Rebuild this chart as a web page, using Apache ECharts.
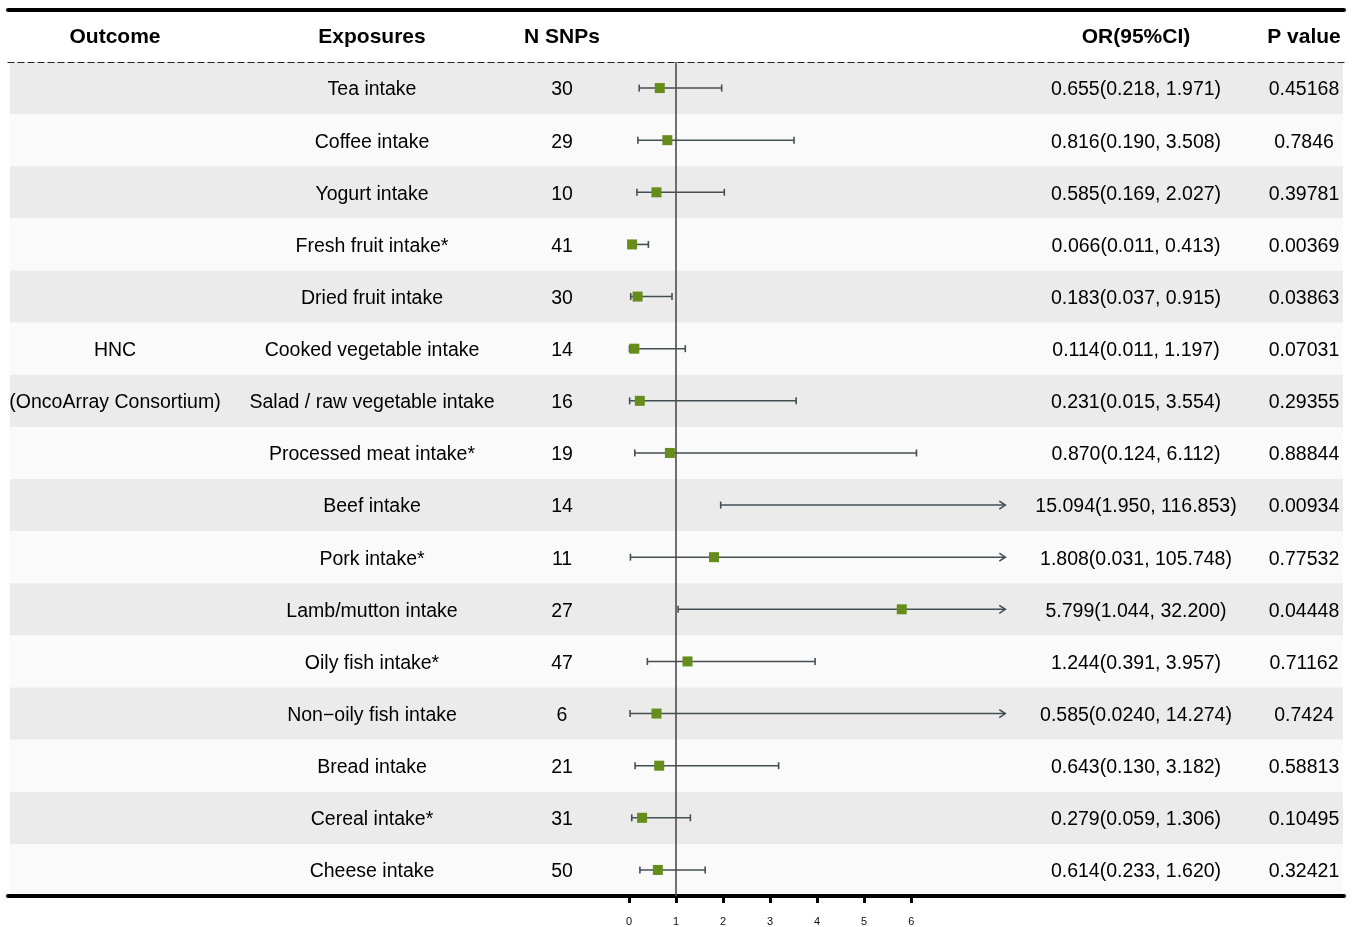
<!DOCTYPE html>
<html>
<head>
<meta charset="utf-8">
<title>HNC forest plot</title>
<script src="https://cdn.jsdelivr.net/npm/echarts@6/dist/echarts.min.js"></script>
<style>
  html, body { margin: 0; padding: 0; background: #fff; }
  #forest { width: 1354px; height: 927px; }
</style>
</head>
<body>
<div id="forest"></div>
<script>
// ---- data ----
const exposures = ['Tea intake', 'Coffee intake', 'Yogurt intake', 'Fresh fruit intake*', 'Dried fruit intake',
  'Cooked vegetable intake', 'Salad / raw vegetable intake', 'Processed meat intake*', 'Beef intake', 'Pork intake*',
  'Lamb/mutton intake', 'Oily fish intake*', 'Non\u2212oily fish intake', 'Bread intake', 'Cereal intake*', 'Cheese intake'];
const outcomeLabels = ['', '', '', '', '', 'HNC', '(OncoArray Consortium)', '', '', '', '', '', '', '', '', ''];
const nSnps = [30, 29, 10, 41, 30, 14, 16, 19, 14, 11, 27, 47, 6, 21, 31, 50];
const orText = ['0.655', '0.816', '0.585', '0.066', '0.183', '0.114', '0.231', '0.870', '15.094', '1.808',
  '5.799', '1.244', '0.585', '0.643', '0.279', '0.614'];
const loText = ['0.218', '0.190', '0.169', '0.011', '0.037', '0.011', '0.015', '0.124', '1.950', '0.031',
  '1.044', '0.391', '0.0240', '0.130', '0.059', '0.233'];
const hiText = ['1.971', '3.508', '2.027', '0.413', '0.915', '1.197', '3.554', '6.112', '116.853', '105.748',
  '32.200', '3.957', '14.274', '3.182', '1.306', '1.620'];
const pValues = ['0.45168', '0.7846', '0.39781', '0.00369', '0.03863', '0.07031', '0.29355', '0.88844', '0.00934',
  '0.77532', '0.04448', '0.71162', '0.7424', '0.58813', '0.10495', '0.32421'];
const tickValues = [0, 1, 2, 3, 4, 5, 6];
const headers = ['Outcome', 'Exposures', 'N SNPs', 'OR(95%CI)', 'P value'];

// forest panel is cut at this OR value (arrows beyond)
const clipMax = 8;
// axis spans the whole table width so that 0 lands under the forest panel
const xMin = -13.2, xMax = 15.2;

// column centres (layout)
const colX = [115, 372, 562, 1136, 1304];
const font = '"Liberation Sans", Arial, sans-serif';

const rows = exposures.map((_, i) => i);
const orVal = orText.map(Number);
const loVal = loText.map(Number);
const hiVal = hiText.map(Number);

const chart = echarts.init(document.getElementById('forest'));

const option = {
  animation: false,
  backgroundColor: '#ffffff',
  grid: { left: 8, right: 10, top: 62, bottom: 31 },
  xAxis: [
    {
      type: 'value', min: xMin, max: xMax, position: 'bottom',
      axisLine: { show: true, onZero: false, lineStyle: { color: '#000', width: 4, cap: 'round' } },
      axisTick: { show: true, customValues: tickValues, length: 7, lineStyle: { color: '#000', width: 3 } },
      axisLabel: { customValues: tickValues, fontSize: 11, color: '#111', margin: 20, fontFamily: font },
      splitLine: { show: false }
    },
    {
      type: 'value', min: xMin, max: xMax, position: 'top',
      axisLine: { show: true, onZero: false, lineStyle: { color: '#222', width: 1.2, type: [6, 4] } },
      axisTick: { show: false }, axisLabel: { show: false }, splitLine: { show: false }
    },
    {
      type: 'value', min: xMin, max: xMax, position: 'top', offset: 52,
      axisLine: { show: true, onZero: false, lineStyle: { color: '#000', width: 4, cap: 'round' } },
      axisTick: { show: false }, axisLabel: { show: false }, splitLine: { show: false }
    }
  ],
  yAxis: {
    type: 'category', data: exposures, inverse: true, show: false
  },
  graphic: headers.map((h, k) => ({
    type: 'text', x: colX[k], y: 37,
    style: { text: h, font: 'bold 21px ' + font, fill: '#000', align: 'center', verticalAlign: 'middle' }
  })),
  series: [
    {
      // row stripes
      type: 'custom', z: 0, silent: true,
      data: rows.map(i => [0, i]),
      renderItem: function (params, api) {
        const i = api.value(1);
        const y = api.coord([0, i])[1];
        const h = api.size([0, 1])[1];
        const cs = params.coordSys;
        return {
          type: 'rect',
          shape: { x: cs.x + 2, y: y - h / 2, width: cs.width - 3, height: h },
          style: { fill: i % 2 === 0 ? '#ebebeb' : '#fafafa' }
        };
      }
    },
    {
      // table text
      type: 'custom', z: 5, silent: true,
      data: rows.map(i => [0, i]),
      renderItem: function (params, api) {
        const i = api.value(1);
        const y = api.coord([0, i])[1] + 2;
        const cells = [
          outcomeLabels[i],
          exposures[i],
          String(nSnps[i]),
          orText[i] + '(' + loText[i] + ', ' + hiText[i] + ')',
          pValues[i]
        ];
        return {
          type: 'group',
          children: cells.map((t, k) => ({
            type: 'text', x: colX[k], y: y,
            style: { text: t, font: '19.5px ' + font, fill: '#000', align: 'center', verticalAlign: 'middle' }
          }))
        };
      }
    },
    {
      // confidence intervals
      type: 'custom', z: 3, silent: true,
      data: rows.map(i => [loVal[i], Math.min(hiVal[i], clipMax), i, hiVal[i] > clipMax ? 1 : 0]),
      renderItem: function (params, api) {
        const a = api.coord([api.value(0), api.value(2)]);
        const b = api.coord([api.value(1), api.value(2)]);
        const arrow = api.value(3) === 1;
        const st = { stroke: '#454e52', lineWidth: 1.6, fill: null };
        const kids = [
          { type: 'line', shape: { x1: a[0], y1: a[1], x2: b[0], y2: b[1] }, style: st },
          { type: 'line', shape: { x1: a[0], y1: a[1] - 3.5, x2: a[0], y2: a[1] + 3.5 }, style: st }
        ];
        if (arrow) {
          kids.push({ type: 'polyline', shape: { points: [[b[0] - 6, b[1] - 4], [b[0], b[1]], [b[0] - 6, b[1] + 4]] }, style: st });
        } else {
          kids.push({ type: 'line', shape: { x1: b[0], y1: b[1] - 3.5, x2: b[0], y2: b[1] + 3.5 }, style: st });
        }
        return { type: 'group', children: kids };
      },
      markLine: {
        silent: true, symbol: 'none', label: { show: false },
        lineStyle: { color: '#4d4d4d', width: 1.6, type: 'solid' },
        data: [{ xAxis: 1 }]
      }
    },
    {
      // point estimates
      type: 'scatter', z: 4, symbol: 'rect', symbolSize: 10, silent: true,
      itemStyle: { color: '#668c1c', opacity: 1 },
      data: rows.filter(i => orVal[i] <= clipMax).map(i => [orVal[i], i])
    }
  ]
};

chart.setOption(option);
</script>
</body>
</html>
